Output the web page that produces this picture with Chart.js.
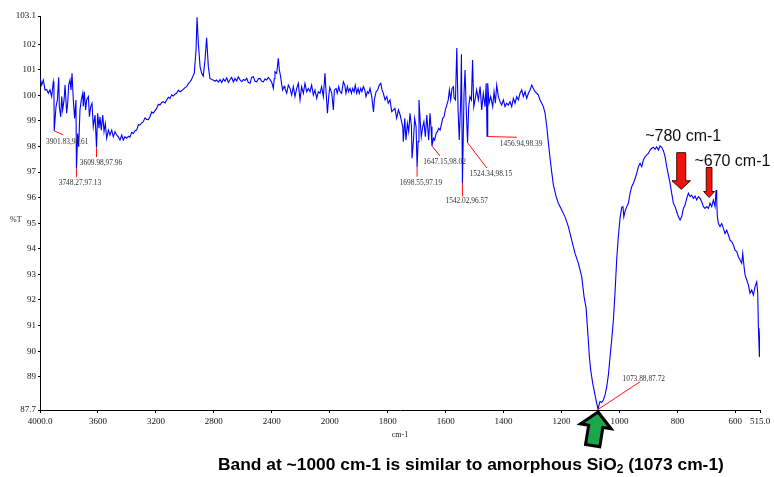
<!DOCTYPE html>
<html>
<head>
<meta charset="utf-8">
<title>FTIR spectrum</title>
<script src="https://cdn.jsdelivr.net/npm/chart.js@4.4.1/dist/chart.umd.min.js"></script>
<style>
  html, body { margin: 0; padding: 0; background: #fff; }
  canvas { display: block; }
</style>
</head>
<body>
<canvas id="spectrumChart" width="774" height="477"></canvas>
<script>
// Spectrum, read from high to low wavenumber (cm-1) / transmittance (%T)
const wavenumbers = [
    // 4000 - 2620
    4000, 3988.5, 3977, 3965.5, 3954, 3942.5, 3931, 3919.5, 3908, 3904,
    3901.83, 3889.5, 3880, 3871, 3866.5, 3857, 3850, 3843.5, 3834, 3827,
    3816, 3809, 3802, 3793, 3786, 3779, 3770, 3761, 3752, 3748.27,
    3740, 3733, 3724, 3715, 3705, 3701, 3694, 3685, 3678, 3666,
    3659, 3650, 3641, 3632, 3620, 3609.98, 3602, 3593, 3586, 3577,
    3567, 3558, 3549, 3540, 3528, 3517, 3505, 3494, 3482, 3471,
    3459, 3448, 3436, 3425, 3414, 3402, 3390, 3379, 3367, 3356,
    3344, 3333, 3321, 3310, 3298, 3287, 3275, 3264, 3252, 3241,
    3229, 3218, 3206, 3195, 3183, 3172, 3160, 3149, 3137, 3126,
    3114, 3103, 3091, 3080, 3068, 3057, 3045, 3034, 3022, 3011,
    2999, 2988, 2977, 2965, 2955, 2946, 2935, 2923, 2916, 2907,
    2895, 2884, 2873, 2861, 2850, 2838, 2827, 2815, 2804, 2792,
    2781, 2769, 2757, 2746, 2734, 2723, 2711, 2700, 2688, 2677,
    2665, 2654, 2642, 2631, 2619,
    // 2607 - 2000
    2607, 2596, 2585, 2573, 2562, 2550, 2539, 2527, 2516, 2504,
    2493, 2481, 2470, 2458, 2447, 2435, 2424, 2412, 2400, 2389,
    2383, 2378, 2366, 2355, 2348, 2339, 2331, 2325, 2315, 2309,
    2297, 2286, 2274, 2263, 2251, 2240, 2228, 2217, 2205, 2194,
    2182, 2171, 2159, 2148, 2136, 2125, 2113, 2102, 2090, 2079,
    2067, 2056, 2044, 2033, 2026, 2016, 2007, 2000,
    // 1993 - 1457
    1993, 1987.5, 1984, 1978, 1974, 1969, 1964.5, 1959, 1953, 1948,
    1944, 1939, 1935, 1930, 1925, 1921, 1916, 1912, 1907, 1902,
    1898, 1893, 1889, 1884, 1879, 1875, 1870, 1865.5, 1861, 1855,
    1849, 1846, 1840, 1834.5, 1829, 1824, 1819.5, 1815, 1809, 1803,
    1798, 1792, 1786, 1780, 1775, 1769, 1763, 1757, 1752, 1748,
    1746, 1741, 1737, 1732, 1727.5, 1723, 1718, 1716, 1711, 1707,
    1702, 1698.55, 1695, 1692, 1688, 1684, 1679, 1675, 1670, 1665,
    1662, 1658.5, 1654, 1650.5, 1647.15, 1642, 1638, 1633, 1628.5, 1624,
    1619, 1615, 1610, 1605.5, 1601, 1596, 1591, 1587, 1582.5, 1578,
    1573, 1571, 1566, 1561.5, 1557, 1553, 1548, 1545.5, 1542.02, 1536.5,
    1533, 1529.6, 1524.34, 1520.4, 1516, 1511, 1507, 1503, 1498.5, 1493,
    1487, 1481, 1475.5, 1470, 1464, 1460, 1456.94,
    // 1455 - 1291
    1454.8, 1450.2, 1444.4, 1437.5, 1432.9, 1428.3, 1423.7, 1418, 1412.2, 1406.5,
    1400.7, 1395, 1389.2, 1383.5, 1377.7, 1372, 1366.2, 1360.5, 1354.7, 1349,
    1343.2, 1337.4, 1331.7, 1325.9, 1320.2, 1314.4, 1308.7, 1302.9, 1297.2, 1291.4,
    // Si-O band
    1285.7, 1279.9, 1274.2, 1268.4, 1262.7, 1256.9, 1251.2, 1245.4, 1239.6, 1233.9,
    1228.1, 1218.9, 1210.9, 1199.4, 1187.9, 1176.4, 1164.9, 1153.4, 1141.8, 1130.3,
    1122.3, 1115.4, 1110.8, 1107.3, 1103.9, 1099.3, 1092.4, 1086.6, 1080.9, 1073.88,
    1070.5, 1067.1, 1061.3, 1055.6, 1049.8, 1044, 1038.3, 1032.5, 1026.8, 1021,
    // 1015 - 515
    1015.3, 1009.5, 1003.8, 998, 992.3, 988, 985, 980, 975, 969.3,
    963.5, 957.8, 952, 946.2, 940.5, 934.7, 929, 923.2, 917.5, 911.7,
    906, 900.2, 894.5, 888.7, 883, 877.2, 871.5, 865.7, 859.9, 854.2,
    848.4, 842.7, 836.9, 831.2, 825.4, 819.7, 813.9, 808.2, 802.4, 796.7,
    790.9, 785.2, 779.4, 773.7, 767.9, 762.2, 756.4, 750.7, 744.9, 739.1,
    733.4, 727.6, 721.9, 716.1, 710.4, 704.6, 698.9, 693.1, 687.4, 681.6,
    675.9, 670.1, 666.7, 664.4, 662.1, 658.6, 652.9, 647.1, 641.4, 635.6,
    629.8, 624.1, 618.3, 612.6, 606.8, 601.1, 595.3, 589.6, 583.8, 578.1,
    574.6, 570, 566.6, 560.8, 555.1, 549.3, 543.6, 537.8, 532.1, 526.3,
    522.8, 520.6, 517.1, 515
];

const transmittance = [
    // 4000 - 2620
    100.70, 100.40, 100.60, 100.21, 100.23, 100.08, 100.21, 99.95, 100.53, 100.34,
    98.61, 99.56, 99.82, 100.70, 99.56, 99.16, 99.95, 99.43, 99.82, 100.40,
    99.30, 99.69, 100.40, 100.60, 100.21, 100.86, 99.82, 99.10, 99.82, 97.13,
    98.51, 97.99, 99.43, 99.82, 100.08, 99.56, 100.14, 99.43, 99.82, 99.95,
    99.16, 99.56, 99.69, 98.77, 99.23, 97.96, 99.30, 98.71, 99.16, 98.64,
    99.23, 98.58, 98.90, 98.32, 98.64, 98.45, 98.64, 98.38, 98.58, 98.45,
    98.38, 98.25, 98.45, 98.25, 98.38, 98.32, 98.40, 98.36, 98.55, 98.51,
    98.62, 98.64, 98.85, 98.84, 98.92, 98.97, 99.12, 99.06, 99.05, 99.16,
    99.35, 99.30, 99.40, 99.49, 99.65, 99.62, 99.72, 99.75, 99.70, 99.82,
    99.92, 99.88, 100.02, 99.97, 100.05, 100.08, 100.20, 100.14, 100.18, 100.23,
    100.30, 100.34, 100.45, 100.53, 100.60, 100.73, 100.86, 101.77, 103.05, 102.03,
    101.12, 100.86, 100.75, 101.38, 102.25, 101.12, 100.66, 100.62, 100.60, 100.55,
    100.60, 100.52, 100.62, 100.50, 100.64, 100.55, 100.68, 100.50, 100.62, 100.70,
    100.52, 100.66, 100.56, 100.72, 100.60,
    // 2607 - 2000
    100.53, 100.62, 100.58, 100.66, 100.50, 100.47, 100.70, 100.73, 100.55, 100.53,
    100.65, 100.66, 100.55, 100.53, 100.64, 100.60, 100.70, 100.62, 100.50, 100.27,
    100.66, 100.92, 100.86, 101.45, 100.99, 100.73, 100.40, 100.21, 100.35, 100.27,
    100.08, 100.40, 100.27, 100.01, 100.34, 99.95, 100.27, 100.47, 99.82, 100.34,
    100.08, 100.47, 100.14, 100.27, 100.14, 100.40, 100.01, 100.21, 99.88, 100.14,
    100.08, 100.34, 99.95, 100.86, 100.21, 99.30, 99.95, 100.31,
    // 1993 - 1457
    100.08, 99.43, 100.21, 100.27, 100.08, 100.34, 100.14, 100.08, 100.53, 100.40,
    100.08, 100.34, 100.14, 100.27, 100.08, 100.27, 100.14, 100.40, 100.08, 100.27,
    100.08, 100.27, 100.14, 100.34, 100.21, 99.95, 100.14, 100.08, 100.27, 99.95,
    99.35, 99.82, 100.14, 100.21, 100.40, 100.47, 100.21, 100.08, 99.82, 99.95,
    99.69, 99.82, 99.36, 99.43, 99.49, 99.10, 99.43, 99.23, 98.97, 98.77,
    98.19, 99.10, 98.25, 98.90, 98.58, 99.30, 98.77, 97.54, 98.25, 99.10,
    98.77, 97.19, 98.19, 99.82, 99.04, 98.38, 98.77, 98.97, 98.38, 99.23,
    98.77, 98.25, 99.30, 98.77, 98.02, 98.32, 98.25, 98.51, 98.58, 98.71,
    98.64, 98.84, 99.10, 99.17, 99.43, 99.62, 99.82, 100.21, 99.82, 100.27,
    100.34, 99.90, 99.82, 101.85, 99.43, 98.25, 99.82, 101.60, 96.57, 100.08,
    100.99, 99.69, 98.15, 99.56, 99.95, 99.82, 101.38, 99.55, 99.82, 100.21,
    99.82, 100.34, 99.43, 100.08, 99.56, 100.47, 98.39,
    // 1455 - 1291
    100.47, 99.69, 99.95, 99.56, 100.14, 99.69, 100.40, 99.95, 99.75, 99.62,
    99.82, 99.56, 99.69, 99.62, 99.75, 99.56, 99.88, 99.69, 99.95, 99.82,
    100.08, 100.21, 99.95, 100.14, 99.88, 100.08, 100.21, 100.40, 100.27, 100.14,
    // Si-O band
    100.08, 100.01, 99.82, 99.69, 99.56, 99.30, 98.80, 98.15, 97.55, 97.00,
    96.50, 96.05, 95.78, 95.52, 95.25, 94.87, 94.34, 93.82, 93.43, 92.91,
    92.13, 91.70, 90.96, 90.40, 89.78, 89.26, 88.74, 88.42, 88.09, 87.72,
    87.90, 88.03, 88.00, 88.09, 88.29, 88.61, 89.07, 89.78, 90.44, 91.22,
    // 1015 - 515
    92.30, 93.60, 94.50, 95.20, 95.62, 95.65, 95.25, 95.50, 95.65, 95.78,
    96.17, 96.43, 96.56, 96.75, 96.95, 97.21, 97.34, 97.21, 97.47, 97.60,
    97.67, 97.73, 97.86, 97.93, 97.97, 97.89, 97.99, 97.86, 98.02, 97.97,
    97.84, 97.60, 97.21, 96.88, 96.56, 96.17, 95.78, 95.65, 95.45, 95.26,
    95.13, 95.26, 95.58, 95.71, 95.97, 96.17, 96.04, 96.10, 95.97, 96.06,
    95.91, 96.04, 95.97, 95.84, 95.65, 95.58, 95.65, 95.58, 95.78, 95.65,
    95.91, 95.65, 96.30, 95.91, 95.26, 94.99, 94.87, 94.99, 94.80, 94.60,
    94.73, 94.54, 94.34, 94.28, 94.15, 93.95, 93.89, 93.69, 93.56, 93.43,
    93.82, 93.30, 92.98, 92.78, 92.59, 92.26, 92.39, 92.19, 92.52, 92.71,
    92.26, 90.96, 89.77, 90.90
];

// Labelled peaks
const peakWavenumbers = [3901.83, 3748.27, 3609.98, 1698.55, 1647.15, 1542.02, 1524.34, 1456.94, 1073.88];
const peakTransmittance = [98.61, 97.13, 97.96, 97.19, 98.02, 96.57, 98.15, 98.39, 87.72];

// Axis ticks
const xTicks = [4000, 3600, 3200, 2800, 2400, 2000, 1800, 1600, 1400, 1200, 1000, 800, 600, 515];
const yTicks = [87.7, 89, 90, 91, 92, 93, 94, 95, 96, 97, 98, 99, 100, 101, 102, 103.1];

// Notes
const bandNotes = [780, 670];
const bandNoteText = ['~780 cm-1', '~670 cm-1'];
const footnote = ['Band at ~1000 cm-1 is similar to amorphous SiO', '2', ' (1073 cm-1)'];

// Below 2000 cm-1 the axis is stretched 2x, like the instrument printout
const AXIS_BREAK = 2000;
const EXPAND = 2;

class BrokenLinearScale extends Chart.LinearScale {
    static id = 'brokenLinear';
    static defaults = Chart.LinearScale.defaults;

    // distance from the left (high wavenumber) end, in stretched units
    span(v) {
        if (v >= AXIS_BREAK) return this.max - v;
        return (this.max - AXIS_BREAK) + (AXIS_BREAK - v) * EXPAND;
    }
    getPixelForValue(value) {
        return this.left + this.width * this.span(value) / this.span(this.min);
    }
    getValueForPixel(pixel) {
        const s = (pixel - this.left) / this.width * this.span(this.min);
        const upper = this.max - AXIS_BREAK;
        return s <= upper ? this.max - s : AXIS_BREAK - (s - upper) / EXPAND;
    }
}
Chart.register(BrokenLinearScale);

const SERIF = '"Liberation Serif", "Times New Roman", serif';
const SANS = '"Liberation Sans", Arial, sans-serif';

// Offsets of the red leader line end and the label, per peak: [lineDx, lineDy, textDx, textDy]
const calloutLayout = [
    [9, 4, 13, 13.6],
    [0, 8.5, 3.5, 16.5],
    [0, 9.5, 4.5, 17.5],
    [0, 9.5, 3.8, 18],
    [8, 10, 12.6, 17.6],
    [0, 13.5, 4.3, 20.3],
    [19.2, 25.3, 23.3, 33],
    [29.7, 0.8, 34, 9.5],
    [42, -27.8, 45.7, -28.8]
];

function downArrow(ctx, cx, top, tip, shaftW, headW, headH) {
    ctx.beginPath();
    ctx.moveTo(cx - shaftW / 2, top);
    ctx.lineTo(cx + shaftW / 2, top);
    ctx.lineTo(cx + shaftW / 2, tip - headH);
    ctx.lineTo(cx + headW / 2, tip - headH);
    ctx.lineTo(cx, tip);
    ctx.lineTo(cx - headW / 2, tip - headH);
    ctx.lineTo(cx - shaftW / 2, tip - headH);
    ctx.closePath();
    ctx.fillStyle = '#f2120c';
    ctx.fill();
    ctx.strokeStyle = '#3b0906';
    ctx.lineWidth = 1;
    ctx.stroke();
}

const annotations = {
    id: 'annotations',
    afterDatasetsDraw(chart) {
        const { ctx, chartArea, scales: { x, y } } = chart;
        ctx.save();

        // peak callouts
        ctx.font = '7.4px ' + SERIF;
        ctx.textAlign = 'center';
        ctx.textBaseline = 'alphabetic';
        peakWavenumbers.forEach((wn, i) => {
            const t = peakTransmittance[i];
            const px = x.getPixelForValue(wn);
            const py = y.getPixelForValue(t);
            const [lx, ly, tx, ty] = calloutLayout[i];
            ctx.strokeStyle = '#ff1010';
            ctx.lineWidth = 1;
            ctx.beginPath();
            ctx.moveTo(px, py);
            ctx.lineTo(px + lx, py + ly);
            ctx.stroke();
            ctx.fillStyle = '#333';
            ctx.fillText(wn.toFixed(2) + ',' + t.toFixed(2), px + tx, py + ty);
        });

        // %T axis name, written horizontally
        ctx.font = '8px ' + SERIF;
        ctx.textAlign = 'left';
        ctx.fillStyle = '#222';
        ctx.fillText('%T', 10, 222);

        // red arrows for the two weak bands
        const a780 = x.getPixelForValue(bandNotes[0]);
        const a670 = x.getPixelForValue(bandNotes[1]);
        downArrow(ctx, a780 - 2, 152.7, 189.3, 9, 18.5, 8.5);
        downArrow(ctx, a670 - 6, 167.5, 197.5, 5.7, 11, 6);

        ctx.font = '16px ' + SANS;
        ctx.fillStyle = '#111';
        ctx.textAlign = 'center';
        ctx.fillText(bandNoteText[0], a780, 140.5);
        ctx.textAlign = 'left';
        ctx.fillText(bandNoteText[1], a670 - 20.7, 166);

        // green arrow under the Si-O minimum
        const gx = x.getPixelForValue(peakWavenumbers[8]);
        ctx.save();
        ctx.translate(gx, chartArea.bottom + 2);
        ctx.rotate(0.16);
        ctx.beginPath();
        ctx.moveTo(0, 0);
        ctx.lineTo(15.5, 14.5);
        ctx.lineTo(7.2, 14.5);
        ctx.lineTo(7.2, 34);
        ctx.lineTo(-7.2, 34);
        ctx.lineTo(-7.2, 14.5);
        ctx.lineTo(-15.5, 14.5);
        ctx.closePath();
        ctx.fillStyle = '#1aa64b';
        ctx.fill();
        ctx.lineJoin = 'miter';
        ctx.strokeStyle = '#000';
        ctx.lineWidth = 3;
        ctx.stroke();
        ctx.restore();

        // footnote, with a subscript 2
        ctx.fillStyle = '#000';
        ctx.textAlign = 'left';
        let fx = 218;
        const fy = 470;
        ctx.font = 'bold 17.4px ' + SANS;
        ctx.fillText(footnote[0], fx, fy);
        fx += ctx.measureText(footnote[0]).width;
        ctx.font = 'bold 12px ' + SANS;
        ctx.fillText(footnote[1], fx, fy + 3);
        fx += ctx.measureText(footnote[1]).width;
        ctx.font = 'bold 17.4px ' + SANS;
        ctx.fillText(footnote[2], fx, fy);

        ctx.restore();
    }
};

new Chart(document.getElementById('spectrumChart'), {
    type: 'line',
    data: {
        datasets: [{
            data: wavenumbers.map((w, i) => ({ x: w, y: transmittance[i] })),
            borderColor: '#0000ff',
            borderWidth: 1.1,
            pointRadius: 0,
            tension: 0,
            fill: false
        }]
    },
    options: {
        responsive: false,
        animation: false,
        devicePixelRatio: 1,
        events: [],
        layout: { padding: { top: 16, right: 14, bottom: 37, left: 0 } },
        plugins: {
            legend: { display: false },
            tooltip: { enabled: false }
        },
        scales: {
            x: {
                type: 'brokenLinear',
                min: 515,
                max: 4000,
                afterBuildTicks: axis => { axis.ticks = xTicks.map(value => ({ value })); },
                afterFit: axis => { axis.height = 30; },
                ticks: {
                    autoSkip: false,
                    maxRotation: 0,
                    padding: 3,
                    color: '#111',
                    font: { family: SERIF, size: 9 },
                    callback: v => (v === 4000 || v === 515) ? v.toFixed(1) : String(v)
                },
                grid: { drawOnChartArea: false, drawTicks: true, tickLength: 3, tickColor: '#000' },
                border: { color: '#000', width: 1 },
                title: {
                    display: true,
                    text: 'cm-1',
                    color: '#222',
                    font: { family: SERIF, size: 8 },
                    padding: { top: 1, bottom: 0 }
                }
            },
            y: {
                min: 87.7,
                max: 103.1,
                afterBuildTicks: axis => { axis.ticks = yTicks.map(value => ({ value })); },
                afterFit: axis => { axis.width = 40; },
                ticks: {
                    padding: 2,
                    color: '#111',
                    font: { family: SERIF, size: 9 },
                    callback: v => Number.isInteger(v) ? String(v) : v.toFixed(1)
                },
                grid: { drawOnChartArea: false, drawTicks: true, tickLength: 2, tickColor: '#000' },
                border: { color: '#000', width: 1 }
            }
        }
    },
    plugins: [annotations]
});
</script>
</body>
</html>
